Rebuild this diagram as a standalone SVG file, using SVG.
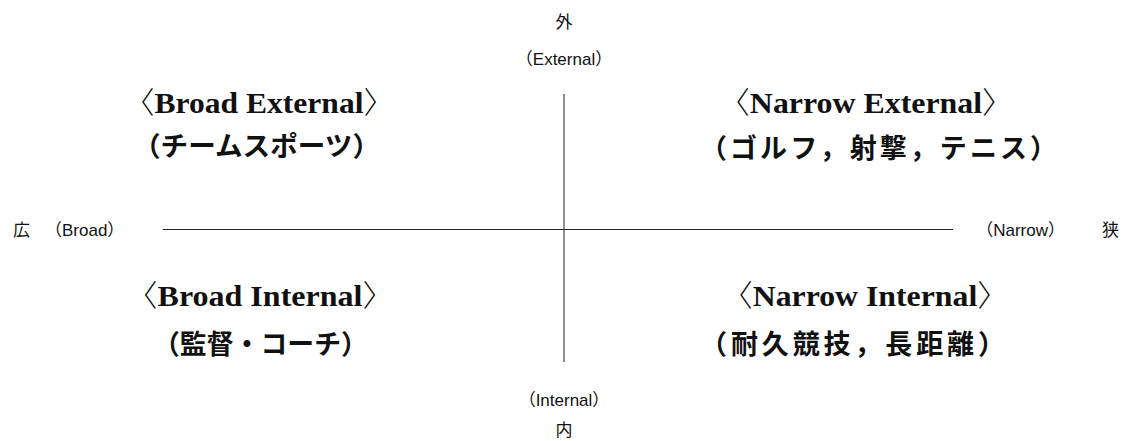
<svg xmlns="http://www.w3.org/2000/svg" width="1127" height="441" viewBox="0 0 1127 441">
<style>
.small{font-family:"Liberation Sans","Noto Sans CJK JP",sans-serif;font-size:17px;fill:#111}
.head{font-family:"Liberation Serif","Noto Sans CJK JP",serif;font-weight:bold;font-size:30px;fill:#111}
.br{font-weight:300}
.jp{font-family:"Noto Sans CJK JP",sans-serif;font-weight:bold;font-size:27px;fill:#111}
.axis{stroke:#222;stroke-width:1;fill:none}
</style>
<rect width="1127" height="441" fill="#fff"/>
<g id="connectors">
<line class="axis" x1="564" y1="94" x2="564" y2="362"/>
<line class="axis" x1="163" y1="229.5" x2="953" y2="229.5"/>
</g>
<g id="axis-top">
<text class="small" x="564" y="28" text-anchor="middle">外</text>
<text class="small" x="564" y="65" text-anchor="middle">（External）</text>
</g>
<g id="axis-bottom">
<text class="small" x="564" y="406" text-anchor="middle">（Internal）</text>
<text class="small" x="564" y="436" text-anchor="middle">内</text>
</g>
<g id="axis-left">
<text class="small" x="13" y="236">広</text>
<text class="small" x="45" y="236">（Broad）</text>
</g>
<g id="axis-right">
<text class="small" x="1065" y="236" text-anchor="end">（Narrow）</text>
<text class="small" x="1119" y="236" text-anchor="end">狭</text>
</g>
<g id="broad-external">
<text class="head" x="259" y="113" text-anchor="middle" textLength="272" lengthAdjust="spacingAndGlyphs"><tspan class="br">〈</tspan>Broad External<tspan class="br">〉</tspan></text>
<text class="jp" x="133" y="156" textLength="247" lengthAdjust="spacingAndGlyphs">（チームスポーツ）</text>
</g>
<g id="narrow-external">
<text class="head" x="866" y="113" text-anchor="middle" textLength="296" lengthAdjust="spacingAndGlyphs"><tspan class="br">〈</tspan>Narrow External<tspan class="br">〉</tspan></text>
<text class="jp" x="700" y="158" textLength="357" lengthAdjust="spacing">（ゴルフ，射撃，テニス）</text>
</g>
<g id="broad-internal">
<text class="head" x="260" y="306" text-anchor="middle" textLength="269" lengthAdjust="spacingAndGlyphs"><tspan class="br">〈</tspan>Broad Internal<tspan class="br">〉</tspan></text>
<text class="jp" x="153" y="354" textLength="215" lengthAdjust="spacingAndGlyphs">（監督・コーチ）</text>
</g>
<g id="narrow-internal">
<text class="head" x="865" y="306" text-anchor="middle" textLength="288" lengthAdjust="spacingAndGlyphs"><tspan class="br">〈</tspan>Narrow Internal<tspan class="br">〉</tspan></text>
<text class="jp" x="700" y="354" textLength="305" lengthAdjust="spacing">（耐久競技，長距離）</text>
</g>
</svg>
